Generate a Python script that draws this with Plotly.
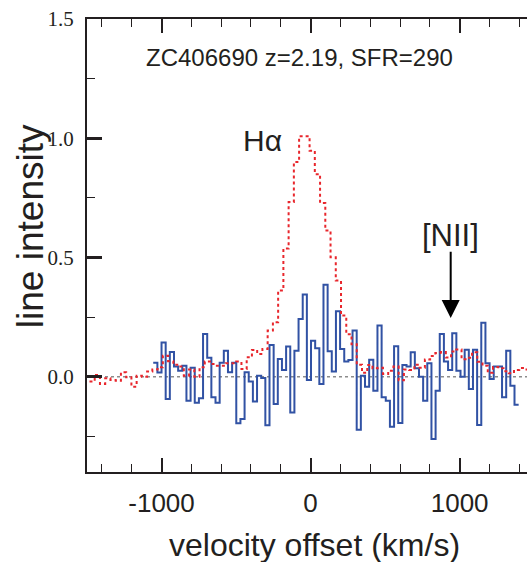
import plotly.graph_objects as go

# ---------------- data ----------------
# Blue histogram (continuum-subtracted spectrum), uniform bins
blue_start = -1055.7     # left edge of first bin (km/s)
blue_width = 27.86       # bin width (km/s)
blue_vals = [
    0.058, 0.017, 0.143, -0.094, 0.103, 0.042, 0.025, 0.046, -0.101, 0.037,
    -0.110, -0.091, 0.179, 0.079, -0.087, -0.110, 0.058, 0.109, 0.018, 0.058,
    -0.196, -0.178, 0.018, -0.020, -0.104, 0.004, -0.006, -0.204, 0.133, -0.115,
    0.074, 0.028, 0.126, -0.150, 0.109, 0.242, 0.345, -0.014, 0.151, 0.119,
    -0.031, 0.385, 0.106, 0.022, 0.274, 0.116, 0.063, 0.070, 0.193, -0.223,
    0.004, -0.042, 0.071, -0.059, 0.214, -0.087, -0.101, -0.210, 0.127, -0.195,
    0.049, 0.042, 0.102, 0.035, 0.000, -0.101, 0.056, -0.262, -0.059, 0.179,
    0.063, 0.028, 0.182, 0.025, 0.000, 0.113, -0.052, 0.113, -0.203, 0.226,
    0.056, -0.010, 0.043, 0.042, -0.087, 0.109, -0.038, -0.118,
]

# Red dotted histogram (H-alpha template), uniform bins
red_start = -1483.4
red_width = 35.16
red_vals = [
    -0.020, 0.007, -0.031, -0.007, -0.014, -0.017, 0.018, -0.003, -0.042, 0.004,
    0.000, 0.022, 0.030, 0.039, 0.088, 0.065, 0.050, 0.042, 0.004, 0.030,
    0.000, 0.039, 0.063, 0.053, 0.046, 0.046, 0.056, 0.056, 0.063, 0.032,
    0.081, 0.112, 0.095, 0.116, 0.193, 0.228, 0.361, 0.537, 0.732, 0.900,
    1.008, 1.008, 0.947, 0.849, 0.728, 0.613, 0.501, 0.403, 0.256, 0.178,
    0.136, 0.050, 0.016, 0.049, 0.035, 0.037, 0.011, 0.025, 0.042, -0.015,
    0.030, 0.028, 0.050, 0.037, 0.072, 0.087, 0.099, 0.103, 0.080, 0.105,
    0.114, 0.073, 0.079, 0.102, 0.062, 0.046, 0.016, 0.040, 0.035, 0.023,
    0.014, 0.028, 0.036, 0.030,
]

x_ticks = [-1000, 0, 1000]
x_ticktext = ["-1000", "0", "1000"]
y_ticks = [0.0, 0.5, 1.0, 1.5]
y_ticktext = ["0.0", "0.5", "1.0", "1.5"]

title_text = "ZC406690 z=2.19, SFR=290"
line_label = "Hα"
nii_label = "[NII]"
nii_velocity = 940
x_title = "velocity offset (km/s)"
y_title = "line intensity"

# ---------------- build step coordinates ----------------
def steps(start, width, vals):
    xs = [start + i * width for i in range(len(vals))] + [start + len(vals) * width]
    ys = list(vals) + [vals[-1]]
    return xs, ys

bx, by = steps(blue_start, blue_width, blue_vals)
rx, ry = steps(red_start, red_width, red_vals)

AX = "#231f20"
SANS = "Liberation Sans, Arial, sans-serif"
SERIF = "Liberation Serif, Times New Roman, serif"

fig = go.Figure()
fig.add_trace(go.Scatter(x=bx, y=by, mode="lines", line_shape="hv",
                         line=dict(color="#3152a4", width=2), hoverinfo="skip"))
fig.add_trace(go.Scatter(x=rx, y=ry, mode="lines", line_shape="hv",
                         line=dict(color="#e8262c", width=2, dash="dot"), hoverinfo="skip"))

fig.add_shape(type="line", xref="paper", x0=0, x1=1, yref="y", y0=0, y1=0,
              line=dict(color="#8c8c8c", width=1.5, dash="dot"), layer="below")

fig.update_layout(
    width=527, height=562,
    margin=dict(l=87, r=0, t=19, b=90),
    paper_bgcolor="white", plot_bgcolor="white",
    showlegend=False,
    font=dict(family=SANS, color=AX),
)

fig.update_xaxes(
    range=[-1500, 1452], showline=True, linecolor=AX, linewidth=2, mirror="ticks",
    ticks="inside", ticklen=14, tickwidth=2, tickcolor=AX,
    tickvals=x_ticks, ticktext=x_ticktext,
    tickfont=dict(family=SANS, size=26, color=AX), ticklabelstandoff=7,
    minor=dict(dtick=200, tick0=0, ticks="inside", ticklen=8, tickwidth=1.3, tickcolor=AX),
    showgrid=False, zeroline=False,
)
fig.update_yaxes(
    range=[-0.4, 1.5], showline=True, linecolor=AX, linewidth=2, mirror=False,
    ticks="inside", ticklen=15, tickwidth=2.5, tickcolor=AX,
    tickvals=y_ticks, ticktext=y_ticktext,
    tickfont=dict(family=SERIF, size=21, color=AX), ticklabelstandoff=7,
    minor=dict(dtick=0.25, tick0=0, ticks="inside", ticklen=8, tickwidth=1.3, tickcolor=AX),
    showgrid=False, zeroline=False,
)

# text annotations
fig.add_annotation(text=title_text, xref="paper", yref="paper", x=0.484, y=0.916,
                   xanchor="center", yanchor="middle",
                   showarrow=False, font=dict(family=SANS, size=24, color=AX))
fig.add_annotation(text=line_label, xref="x", yref="y", x=-320, y=0.99,
                   xanchor="center", yanchor="middle",
                   showarrow=False, font=dict(family=SANS, size=30, color=AX))
fig.add_annotation(text=nii_label, xref="x", yref="y", x=nii_velocity, y=0.594,
                   xanchor="center", yanchor="middle",
                   showarrow=False, font=dict(family=SANS, size=31, color=AX))
fig.add_annotation(text="", xref="x", yref="y", x=nii_velocity, y=0.246,
                   axref="x", ayref="y", ax=nii_velocity, ay=0.53,
                   showarrow=True, arrowhead=2, arrowsize=1.8, arrowwidth=2, arrowcolor="black")
fig.add_annotation(text=x_title, xref="paper", yref="paper", x=0.516, y=-0.162,
                   xanchor="center", yanchor="middle",
                   showarrow=False, font=dict(family=SANS, size=32, color=AX))
fig.add_annotation(text=y_title, xref="paper", yref="paper", x=-0.128, y=0.542,
                   xanchor="center", yanchor="middle", textangle=-90,
                   showarrow=False, font=dict(family=SANS, size=37, color=AX))

fig.write_html("out.html")
